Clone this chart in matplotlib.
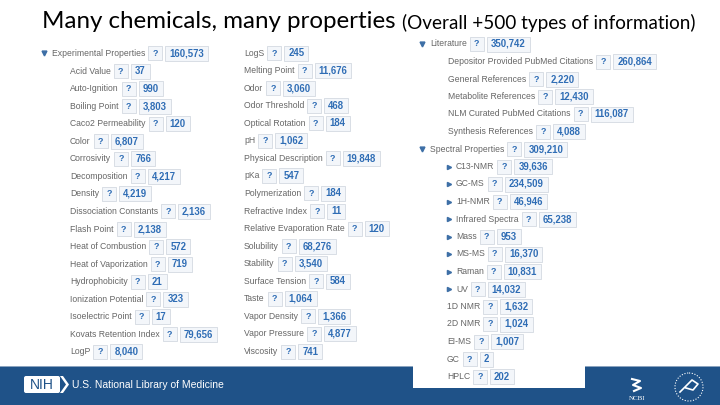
import matplotlib.pyplot as plt
from matplotlib.patches import Rectangle, FancyBboxPatch, Polygon, Circle

# ---- data ----
exp_header = ("Experimental Properties", 160573)
exp_left = ["Acid Value", "Auto-Ignition", "Boiling Point", "Caco2 Permeability", "Color",
            "Corrosivity", "Decomposition", "Density", "Dissociation Constants", "Flash Point",
            "Heat of Combustion", "Heat of Vaporization", "Hydrophobicity", "Ionization Potential",
            "Isoelectric Point", "Kovats Retention Index", "LogP"]
exp_left_counts = [37, 990, 3803, 120, 6807, 766, 4217, 4219, 2136, 2138,
                   572, 719, 21, 323, 17, 79656, 8040]

exp_mid = ["LogS", "Melting Point", "Odor", "Odor Threshold", "Optical Rotation", "pH",
           "Physical Description", "pKa", "Polymerization", "Refractive Index",
           "Relative Evaporation Rate", "Solubility", "Stability", "Surface Tension", "Taste",
           "Vapor Density", "Vapor Pressure", "Viscosity"]
exp_mid_counts = [245, 11676, 3060, 468, 184, 1062, 19848, 547, 184, 11,
                  120, 68276, 3540, 584, 1064, 1366, 4877, 741]

lit_header = ("Literature", 350742)
lit_items = ["Depositor Provided PubMed Citations", "General References", "Metabolite References",
             "NLM Curated PubMed Citations", "Synthesis References"]
lit_counts = [260864, 2220, 12430, 116087, 4088]

spec_header = ("Spectral Properties", 309210)
spec_items = ["C13-NMR", "GC-MS", "1H-NMR", "Infrared Spectra", "Mass", "MS-MS", "Raman", "UV",
              "1D NMR", "2D NMR", "EI-MS", "GC", "HPLC"]
spec_counts = [39636, 234509, 46946, 65238, 953, 16370, 10831, 14032,
               1632, 1024, 1007, 2, 202]
spec_expandable = [True] * 8 + [False] * 5

BLUE = "#2f6db5"
GREY = "#666666"
FONT = "Liberation Sans"

fig = plt.figure(figsize=(7.2, 4.05), dpi=100)
ax = fig.add_axes([0, 0, 1, 1])
ax.set_xlim(0, 720)
ax.set_ylim(405, 0)
ax.axis("off")
renderer = fig.canvas.get_renderer()
inv = ax.transData.inverted()


def right_edge(t):
    bb = t.get_window_extent(renderer)
    return inv.transform((bb.x1, bb.y0))[0]


def entry(x, y, label, count, arrow=None):
    if arrow == "down":
        ax.plot(x - 8, y, marker="v", ms=3.5, color="#3d6fa6", zorder=3)
    elif arrow == "right":
        ax.plot(x - 7, y, marker=">", ms=3, color="#3d6fa6", zorder=3)
    t = ax.text(x, y, label, va="center", ha="left", fontsize=6.2, color=GREY,
                family=FONT, zorder=3)
    qx = right_edge(t) + 3
    ax.add_patch(Rectangle((qx, y - 7), 14, 14, fc="#f3f6fa", ec="#d3d9e1", lw=0.6, zorder=2))
    ax.text(qx + 7, y, "?", ha="center", va="center", fontsize=6.5, color=BLUE,
            fontweight="bold", family=FONT, zorder=3)
    cx = qx + 17
    ct = ax.text(cx + 4, y, f"{count:,}", ha="left", va="center", fontsize=6.9, color=BLUE,
                 fontweight="bold", family=FONT, zorder=3)
    w = right_edge(ct) - cx + 4
    ax.add_patch(Rectangle((cx, y - 7.5), w, 15, fc="#f3f6fa", ec="#d3d9e1", lw=0.6, zorder=2))


# footer band
ax.add_patch(Rectangle((0, 367), 720, 38, fc="#1f5288", ec="none", zorder=0))
ax.add_patch(Rectangle((0, 365.5), 720, 1.8, fc="#8aa3bf", ec="none", zorder=0))
# white panel of the right column covering the footer
ax.add_patch(Rectangle((413, 30), 172, 358, fc="white", ec="none", zorder=1))

# title
t1 = ax.text(42, 22, "Many chemicals, many properties ", fontsize=17.4, family="Lato",
             va="center", ha="left", color="black")
ax.text(right_edge(t1), 23, "(Overall +500 types of information)", fontsize=13.6,
        family="Lato", va="center", ha="left", color="black")

# left column
step = 17.56
entry(52, 53, *exp_header, arrow="down")
for i, (lab, c) in enumerate(zip(exp_left, exp_left_counts)):
    entry(70, 71 + i * step, lab, c)

# middle column
for i, (lab, c) in enumerate(zip(exp_mid, exp_mid_counts)):
    entry(244, 53 + i * step, lab, c)

# right column
rstep = 17.5
entry(430, 44, *lit_header, arrow="down")
for i, (lab, c) in enumerate(zip(lit_items, lit_counts)):
    entry(448, 44 + (i + 1) * rstep, lab, c)
y0 = 44 + 6 * rstep
entry(430, y0, *spec_header, arrow="down")
for i, (lab, c, ex) in enumerate(zip(spec_items, spec_counts, spec_expandable)):
    if ex:
        entry(456, y0 + (i + 1) * rstep, lab, c, arrow="right")
    else:
        entry(447, y0 + (i + 1) * rstep, lab, c)

# footer: NIH logo and wording
ax.add_patch(FancyBboxPatch((24, 376), 36, 17, boxstyle="round,pad=0,rounding_size=2",
                            fc="white", ec="none", zorder=2))
ax.add_patch(Polygon([[60, 376], [63, 376], [69, 384.5], [63, 393], [60, 393], [66, 384.5]],
                     closed=True, fc="white", ec="none", zorder=2))
ax.text(42, 385, "NIH", ha="center", va="center", fontsize=10, color="#1f5288",
        family=FONT, zorder=3)
ax.text(72, 385, "U.S. National Library of Medicine", ha="left", va="center", fontsize=7.5,
        color="white", family=FONT, zorder=3)
# NCBI and HHS marks (simplified)
ax.plot([632, 640, 633, 641, 634], [379, 381, 385, 388, 391], color="white", lw=1.5, zorder=3)
ax.text(637, 399, "NCBI", ha="center", va="center", fontsize=5, color="white",
        family="Liberation Serif", zorder=3)
ax.add_patch(Circle((689, 387), 14, fc="none", ec="white", lw=0.8, ls=(0, (1, 1.5)), zorder=3))
ax.plot([680, 686, 692, 698, 693, 686], [392, 386, 380, 384, 390, 388], color="white",
        lw=1.2, zorder=3)

fig.savefig("out.png", dpi=100)
